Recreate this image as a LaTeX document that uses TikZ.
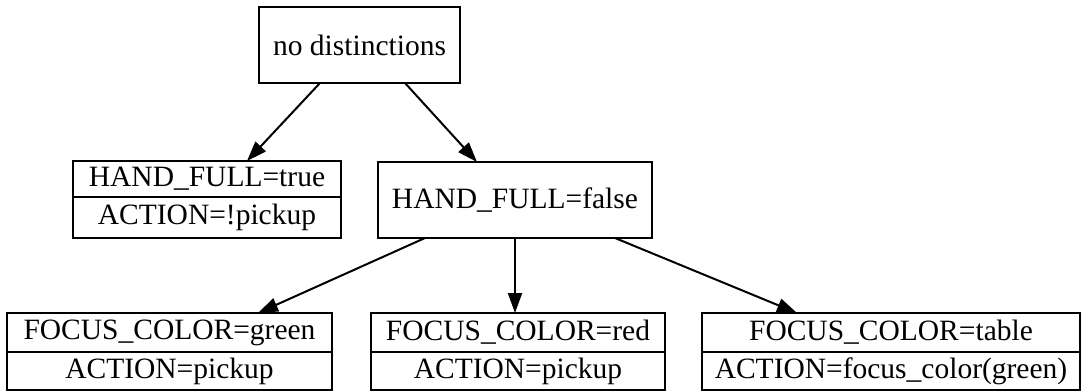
\documentclass[tikz,border=0pt]{standalone}
\usepackage{fontspec}
\setmainfont{Liberation Serif}
\usetikzlibrary{arrows.meta}
\begin{document}
\begin{tikzpicture}[x=1pt,y=-1pt,
  box/.style={draw=black,line width=2pt,rectangle,inner sep=0pt,outer sep=0pt,font=\fontsize{29.5}{34}\selectfont,text=black},
  conn/.style={line width=2pt,-{Triangle[length=20pt,width=14pt]}}]
\useasboundingbox (0,0) rectangle (1081,391);
% root
\node[box,minimum width=201pt,minimum height=76pt] (root) at (359.5,45) {no distinctions};
% HAND_FULL=true
\node[box,minimum width=268pt,minimum height=36pt] (ht) at (207,179) {HAND\_FULL=true};
\node[box,minimum width=268pt,minimum height=41pt] (ha) at (207,217.5) {ACTION=!pickup};
% HAND_FULL=false
\node[box,minimum width=274pt,minimum height=76pt] (hf) at (515,200) {HAND\_FULL=false};
% bottom boxes
\node[box,minimum width=325pt,minimum height=39pt] (gt) at (169.5,332.5) {FOCUS\_COLOR=green};
\node[box,minimum width=325pt,minimum height=38pt] (ga) at (169.5,371) {ACTION=pickup};
\node[box,minimum width=294pt,minimum height=39pt] (rt) at (518,332.5) {FOCUS\_COLOR=red};
\node[box,minimum width=294pt,minimum height=38pt] (ra) at (518,371) {ACTION=pickup};
\node[box,minimum width=378pt,minimum height=39pt] (tt) at (891,332.5) {FOCUS\_COLOR=table};
\node[box,minimum width=378pt,minimum height=38pt] (ta) at (891,371) {ACTION=focus\_color(green)};
% connectors
\draw[conn] ([xshift=-39.5pt]root.south) -- ([xshift=40pt]ht.north);
\draw[conn] ([xshift=45.5pt]root.south) -- ([xshift=-38pt]hf.north);
\draw[conn] ([xshift=-90pt]hf.south) -- ([xshift=88.5pt]gt.north);
\draw[conn] (hf.south) -- ([xshift=-3pt]rt.north);
\draw[conn] ([xshift=100pt]hf.south) -- ([xshift=-94pt]tt.north);
\end{tikzpicture}
\end{document}
